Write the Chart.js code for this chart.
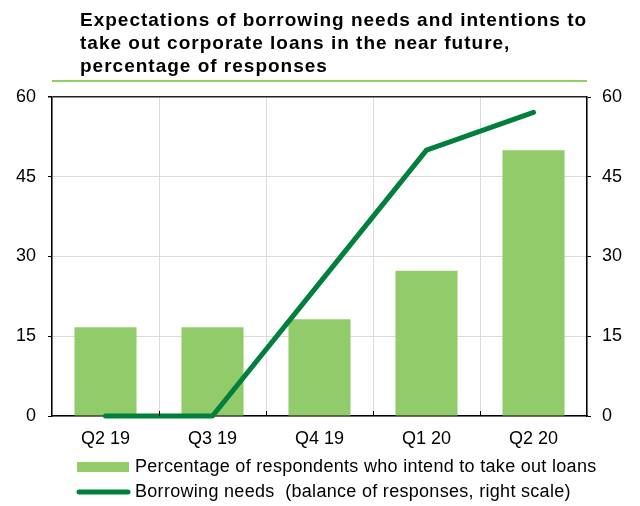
<!DOCTYPE html>
<html>
<head>
<meta charset="utf-8">
<script src="https://cdn.jsdelivr.net/npm/chart.js@4/dist/chart.umd.min.js"></script>
<style>
  html, body { margin: 0; padding: 0; background: #fff; }
  #wrap { width: 640px; height: 506px; }
</style>
</head>
<body>
<div id="wrap"><canvas id="loansChart" width="640" height="506"></canvas></div>
<script>
var quarters = ['Q2 19', 'Q3 19', 'Q4 19', 'Q1 20', 'Q2 20'];
var intendLoans = [16.7, 16.7, 18.2, 27.3, 50];
var borrowingNeeds = [0, 0, 25, 50, 57.1];
var axisTicks = [0, 15, 30, 45, 60];

var titleLines = [
  'Expectations of borrowing needs and intentions to',
  'take out corporate loans in the near future,',
  'percentage of responses'
];
var barLabel = 'Percentage of respondents who intend to take out loans';
var lineLabel = 'Borrowing needs  (balance of responses, right scale)';

var FONT = "'Liberation Sans', Arial, sans-serif";
var barColor = '#92CB69';
var lineColor = '#007F3D';
var gridColor = '#DCDCD4';

// title block, underline, legend rows and the little inward ticks on the x axis
var decorations = {
  id: 'decorations',
  afterDraw: function (chart) {
    var ctx = chart.ctx;
    var area = chart.chartArea;
    ctx.save();

    ctx.fillStyle = '#000';
    ctx.font = 'bold 19px ' + FONT;
    ctx.letterSpacing = '1px';
    ctx.textBaseline = 'alphabetic';
    ctx.textAlign = 'left';
    titleLines.forEach(function (t, i) {
      ctx.fillText(t, 80, 26 + i * 23);
    });
    ctx.strokeStyle = barColor;
    ctx.lineWidth = 2;
    ctx.beginPath();
    ctx.moveTo(area.left, 81);
    ctx.lineTo(area.right, 81);
    ctx.stroke();

    // x axis ticks between categories, pointing up
    var x = chart.scales.x;
    ctx.strokeStyle = '#000';
    ctx.lineWidth = 1;
    for (var i = 1; i < quarters.length; i++) {
      var px = Math.round((x.getPixelForValue(i - 1) + x.getPixelForValue(i)) / 2) + 0.5;
      ctx.beginPath();
      ctx.moveTo(px, area.bottom);
      ctx.lineTo(px, area.bottom - 5);
      ctx.stroke();
    }

    // legend
    ctx.font = '18px ' + FONT;
    ctx.letterSpacing = '0.3px';
    ctx.textBaseline = 'middle';
    ctx.fillStyle = barColor;
    ctx.fillRect(77, 462, 52, 10);
    ctx.strokeStyle = lineColor;
    ctx.lineWidth = 5;
    ctx.lineCap = 'round';
    ctx.beginPath();
    ctx.moveTo(79, 492);
    ctx.lineTo(128, 492);
    ctx.stroke();
    ctx.fillStyle = '#000';
    ctx.fillText(barLabel, 135, 467);
    ctx.fillText(lineLabel, 135, 492);

    ctx.restore();
  }
};

var loansChart = new Chart(document.getElementById('loansChart'), {
  type: 'bar',
  data: {
    labels: quarters,
    datasets: [{
      type: 'line',
      label: lineLabel,
      data: borrowingNeeds,
      yAxisID: 'y1',
      borderColor: lineColor,
      borderWidth: 5,
      borderCapStyle: 'round',
      borderJoinStyle: 'round',
      pointRadius: 0,
      tension: 0,
      clip: false,
      order: 0
    }, {
      type: 'bar',
      label: barLabel,
      data: intendLoans,
      yAxisID: 'y',
      backgroundColor: barColor,
      barPercentage: 0.58,
      categoryPercentage: 1,
      order: 1
    }]
  },
  options: {
    responsive: false,
    animation: false,
    layout: { padding: { top: 97, left: 0, right: 0, bottom: 50 } },
    plugins: {
      legend: { display: false },
      tooltip: { enabled: false },
      title: { display: false }
    },
    scales: {
      x: {
        offset: true,
        grid: { offset: true, color: gridColor, drawTicks: false },
        border: { color: '#000', width: 1.5 },
        ticks: { color: '#000', font: { family: FONT, size: 18 }, padding: 12 },
        afterFit: function (s) { s.height = 40; }
      },
      y: {
        min: 0,
        max: 60,
        afterBuildTicks: function (s) { s.ticks = axisTicks.map(function (v) { return { value: v }; }); },
        grid: {
          color: function (c) { return c.tick && c.tick.value === 60 ? '#222' : gridColor; },
          lineWidth: function (c) { return c.tick && c.tick.value === 60 ? 1.5 : 1; },
          tickColor: '#000',
          tickLength: 4
        },
        border: { color: '#000', width: 1.5 },
        ticks: { color: '#000', font: { family: FONT, size: 18 }, padding: 12 },
        afterFit: function (s) { s.width = 52; }
      },
      y1: {
        position: 'right',
        min: 0,
        max: 60,
        afterBuildTicks: function (s) { s.ticks = axisTicks.map(function (v) { return { value: v }; }); },
        grid: { drawOnChartArea: false, tickColor: '#000', tickLength: 4 },
        border: { color: '#000', width: 1.5 },
        ticks: { color: '#000', font: { family: FONT, size: 18 }, padding: 11 },
        afterFit: function (s) { s.width = 53; }
      }
    }
  },
  plugins: [decorations]
});
</script>
</body>
</html>
